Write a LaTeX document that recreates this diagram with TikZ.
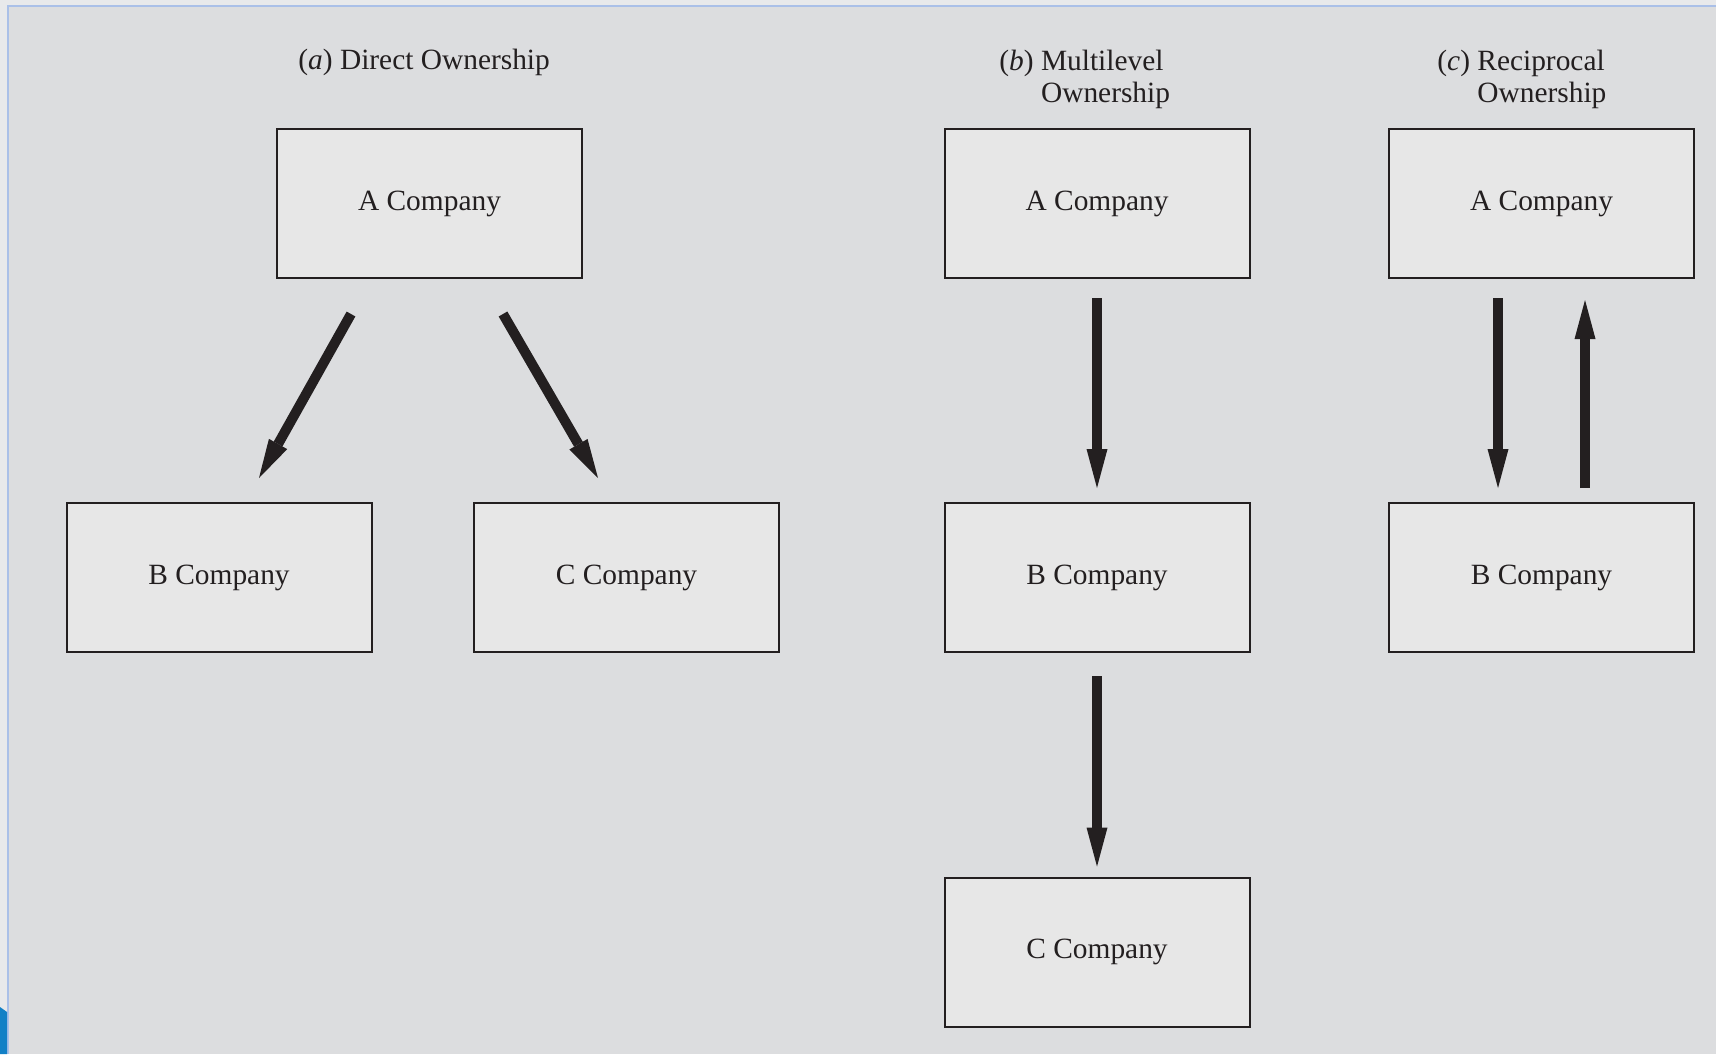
\documentclass[tikz,border=0pt]{standalone}
\usepackage{fontspec}
\setmainfont{Liberation Serif}
\usetikzlibrary{arrows.meta}
\definecolor{bg}{RGB}{220,221,223}
\definecolor{boxfill}{RGB}{231,231,231}
\definecolor{ink}{RGB}{35,31,32}
\definecolor{frame}{RGB}{170,192,232}
\definecolor{strip}{RGB}{232,233,235}
\definecolor{tab}{RGB}{18,128,198}
\begin{document}
\begin{tikzpicture}[x=0.5pt,y=-0.5pt,
 company/.style={draw=ink, fill=boxfill, line width=1pt, minimum width=152.5pt, minimum height=74.5pt, inner sep=0pt, text=ink, font=\fontsize{14.7}{16}\selectfont},
 title/.style={anchor=base west, inner sep=0pt, align=left, text=ink, font=\fontsize{14.7}{16}\selectfont},
 own/.style={draw=ink, line width=5pt, -{Triangle[length=19.5pt,width=10.5pt,line width=0pt]}}]
\useasboundingbox (0,0) rectangle (1716,1054);
\fill[strip] (0,0) rectangle (1716,1054);
\fill[bg] (8,6) rectangle (1716,1054);
\draw[frame, line width=1pt] (8,1054) -- (8,6) -- (1716,6);
\fill[tab] (0,1007) -- (7,1012) -- (7,1054) -- (0,1054) -- cycle;

% titles
\node[title] (ta) at (298,70) {(\textit{a}) Direct Ownership};
\node[title] (tb) at (999,103) {(\textit{b}) Multilevel\\\phantom{(\textit{b}) }Ownership};
\node[title] (tc) at (1437,103) {(\textit{c}) Reciprocal\\\phantom{(\textit{c}) }Ownership};

% (a) direct
\node[company] (Aa) at (429.5,203.5) {A Company};
\node[company] (Ba) at (219,577.5) {B Company};
\node[company] (Ca) at (626.5,577.5) {C Company};
% (b) multilevel
\node[company] (Ab) at (1097,203.5) {A Company};
\node[company] (Bb) at (1097,577.5) {B Company};
\node[company] (Cb) at (1097,952) {C Company};
% (c) reciprocal
\node[company] (Ac) at (1541.5,203.5) {A Company};
\node[company] (Bc) at (1541.5,577.5) {B Company};

% arrows
\draw[own] ([shift={(-78.5,35)}]Aa.south) -- ([shift={(40,-24)}]Ba.north);
\draw[own] ([shift={(73.5,35)}]Aa.south) -- ([shift={(-28.5,-24)}]Ca.north);
\draw[own] ([shift={(0,19)}]Ab.south) -- ([shift={(0,-14)}]Bb.north);
\draw[own] ([shift={(0,23)}]Bb.south) -- ([shift={(0,-10)}]Cb.north);
\draw[own] ([shift={(-43.5,19)}]Ac.south) -- ([shift={(-43.5,-14)}]Bc.north);
\draw[own] ([shift={(43.5,-14)}]Bc.north) -- ([shift={(43.5,21)}]Ac.south);
\end{tikzpicture}
\end{document}
